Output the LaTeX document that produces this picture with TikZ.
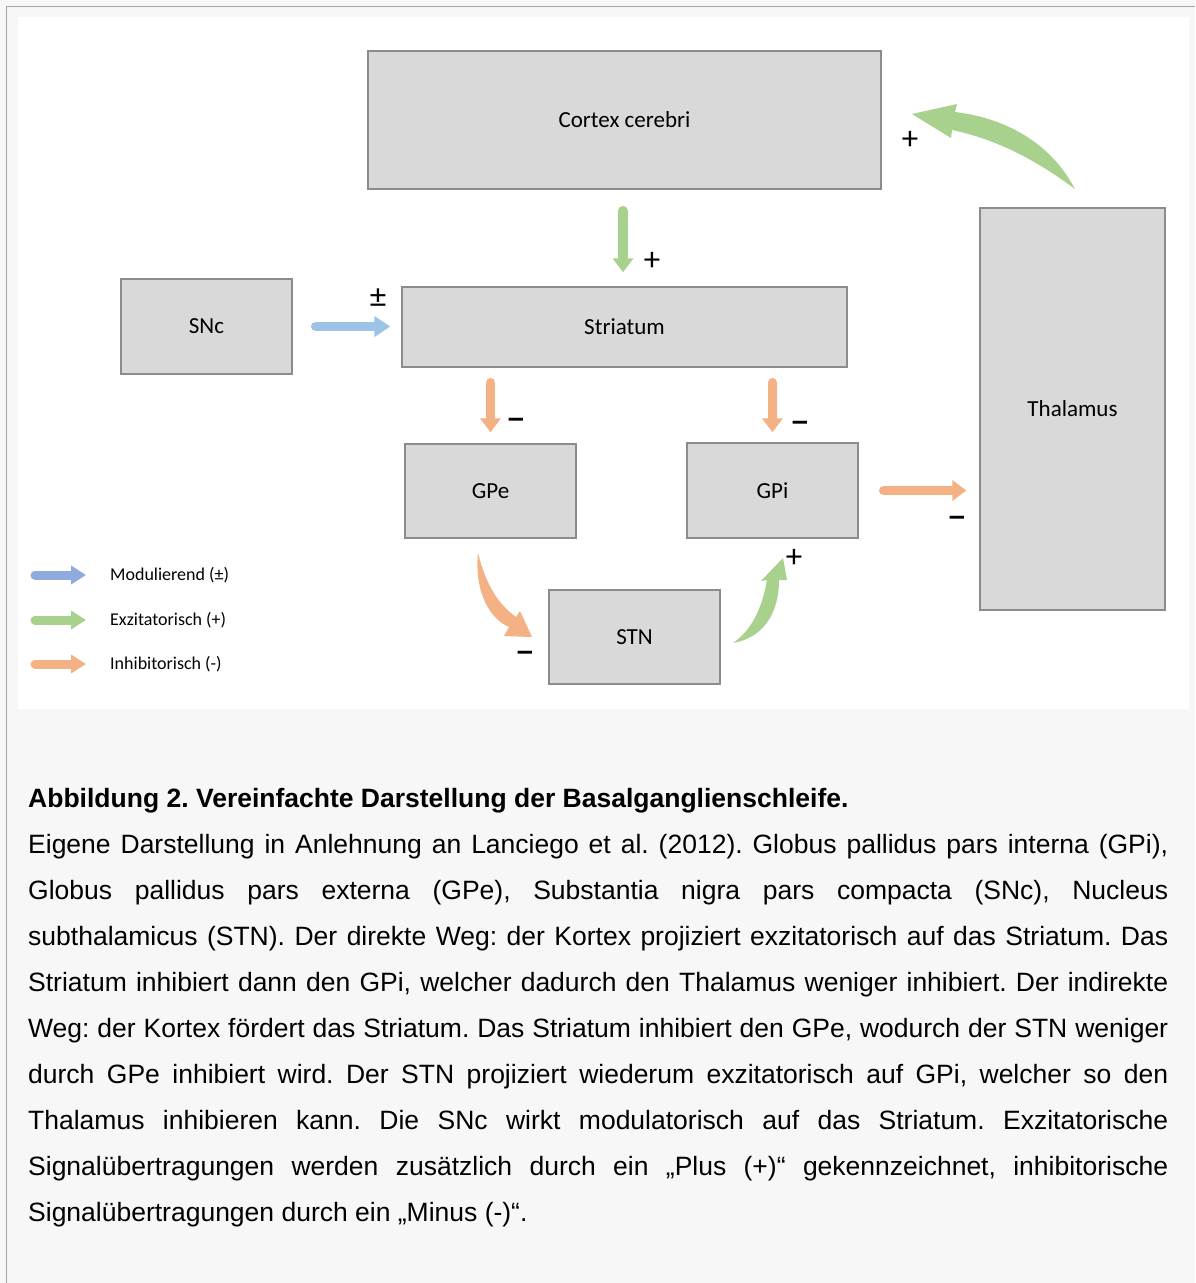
\documentclass[tikz,border=0pt]{standalone}
\usepackage{fontspec}
\setmainfont{Liberation Sans}
\newfontfamily\carl{Carlito}
\usetikzlibrary{arrows.meta}
\frenchspacing
\definecolor{bgc}{HTML}{F7F7F7}
\definecolor{frameline}{HTML}{A6A6A6}
\definecolor{boxfill}{HTML}{D9D9D9}
\definecolor{boxline}{HTML}{8C8C8C}
\definecolor{agreen}{HTML}{A9D18E}
\definecolor{aorange}{HTML}{F4B183}
\definecolor{ablue}{HTML}{9DC3E6}
\definecolor{lblue}{HTML}{8FAADC}
\begin{document}
\begin{tikzpicture}[x=1pt,y=-1pt,
  box/.style={draw=boxline, fill=boxfill, line width=1.4pt, font=\carl\fontsize{23}{26}\selectfont, inner sep=0pt},
  sarrow/.style={line width=9.5pt, line cap=round, -{Triangle[length=14pt,width=20pt]}},
  sign/.style={font=\carl\fontsize{33}{34}\selectfont, inner sep=0pt},
  minus/.style={font=\bfseries\fontsize{29}{30}\selectfont, inner sep=0pt},
  leg/.style={font=\carl\fontsize{18}{22}\selectfont, anchor=west, inner sep=0pt},
  capline/.style={font=\fontsize{26.5}{30}\selectfont, anchor=base west, inner sep=0pt}]
\useasboundingbox (0,0) rectangle (1195,1283);
% background and frame
\fill[bgc] (0,0) rectangle (1195,1283);
\draw[frameline, line width=1.5pt] (6.5,1283) -- (6.5,6.5) -- (1195,6.5);
\fill[white] (18,17) rectangle (1189,709);

% boxes
\node[box, minimum width=513pt, minimum height=138pt] (cortex) at (624.5,120) {Cortex cerebri};
\node[box, minimum width=445pt, minimum height=80pt] (striatum) at (624.5,327) {Striatum};
\node[box, minimum width=171pt, minimum height=95pt] (snc) at (206.5,326.5) {SNc};
\node[box, minimum width=171pt, minimum height=94pt] (gpe) at (490.5,491) {GPe};
\node[box, minimum width=171pt, minimum height=95pt] (gpi) at (772.5,490.5) {GPi};
\node[box, minimum width=171pt, minimum height=94pt] (stn) at (634.5,637) {STN};
\node[box, minimum width=185pt, minimum height=402pt] (thalamus) at (1072.5,409) {Thalamus};

% straight connectors
\draw[sarrow, agreen] ([xshift=-1.5pt,yshift=-21pt]cortex.south) -- ([xshift=-1.5pt,yshift=14pt]striatum.north);
\draw[sarrow, ablue, -{Triangle[length=16pt,width=20pt]}] ([xshift=23pt]snc.east) -- ([xshift=-11pt]snc.east -| striatum.west);
\draw[sarrow, aorange] ([yshift=-15pt]gpe.north |- striatum.south) -- ([yshift=11pt]gpe.north);
\draw[sarrow, aorange] ([yshift=-15pt]gpi.north |- striatum.south) -- ([yshift=10pt]gpi.north);
\draw[sarrow, aorange] ([xshift=25pt]gpi.east) -- ([xshift=-13pt]gpi.east -| thalamus.west);

% curved connectors (tapered)
\coordinate (thtail) at (1075,189);
\coordinate (thtip) at (912,114);
\fill[agreen] (thtip) -- (957,104) -- (955,112) .. controls (1005,118) and (1050,142) .. (thtail)
  .. controls (1040,163) and (1000,140) .. (952,130) -- (951,138) -- cycle;
\coordinate (getail) at (478,553);
\coordinate (getip) at (532,637);
\fill[aorange] (getail) .. controls (486,585) and (498,604) .. (516,617) -- (520,611) -- (getip)
  -- (504,636) -- (509,627) .. controls (492,620) and (474,595) .. (getail) -- cycle;
\coordinate (sttail) at (733,643);
\coordinate (sttip) at (783,558);
\fill[agreen] (sttail) .. controls (752,630) and (762,608) .. (767,580) -- (761,581) -- (sttip)
  -- (787,580) -- (779,580) .. controls (779,615) and (762,638) .. (sttail) -- cycle;

% signs
\node[sign] (s1) at (652,261) {+};
\node[sign] (s2) at (378,298) {±};
\node[minus] (s3) at (516,423) {–};
\node[minus] (s4) at (800,426) {–};
\node[minus] (s5) at (957,521) {–};
\node[minus] (s6) at (525,656) {–};
\node[sign] (s7) at (794,558) {+};
\node[sign] (s8) at (910,140) {+};

% legend
\coordinate (l1a) at (35,575); \coordinate (l1b) at (86,575);
\coordinate (l2a) at (35,620); \coordinate (l2b) at (86,620);
\coordinate (l3a) at (35,664); \coordinate (l3b) at (86,664);
\draw[sarrow, lblue, line width=9pt, -{Triangle[length=15pt,width=18pt]}] (l1a) -- (l1b);
\draw[sarrow, agreen, line width=9pt, -{Triangle[length=15pt,width=18pt]}] (l2a) -- (l2b);
\draw[sarrow, aorange, line width=9pt, -{Triangle[length=15pt,width=18pt]}] (l3a) -- (l3b);
\node[leg] (leg1) at (110,575) {Modulierend (±)};
\node[leg] (leg2) at (110,620) {Exzitatorisch (+)};
\node[leg] (leg3) at (110,664) {Inhibitorisch (-)};

% caption
\node[capline, font=\bfseries\fontsize{26.5}{30}\selectfont] (title) at (28,807) {Abbildung 2. Vereinfachte Darstellung der Basalganglienschleife.};
\node[capline] (c1) at (28,853) {\makebox[1140pt][s]{Eigene Darstellung in Anlehnung an Lanciego et al. (2012). Globus pallidus pars interna (GPi),}};
\node[capline] (c2) at (28,899) {\makebox[1140pt][s]{Globus pallidus pars externa (GPe), Substantia nigra pars compacta (SNc), Nucleus}};
\node[capline] (c3) at (28,945) {\makebox[1140pt][s]{subthalamicus (STN). Der direkte Weg: der Kortex projiziert exzitatorisch auf das Striatum. Das}};
\node[capline] (c4) at (28,991) {\makebox[1140pt][s]{Striatum inhibiert dann den GPi, welcher dadurch den Thalamus weniger inhibiert. Der indirekte}};
\node[capline] (c5) at (28,1037) {\makebox[1140pt][s]{Weg: der Kortex fördert das Striatum. Das Striatum inhibiert den GPe, wodurch der STN weniger}};
\node[capline] (c6) at (28,1083) {\makebox[1140pt][s]{durch GPe inhibiert wird. Der STN projiziert wiederum exzitatorisch auf GPi, welcher so den}};
\node[capline] (c7) at (28,1129) {\makebox[1140pt][s]{Thalamus inhibieren kann. Die SNc wirkt modulatorisch auf das Striatum. Exzitatorische}};
\node[capline] (c8) at (28,1175) {\makebox[1140pt][s]{Signalübertragungen werden zusätzlich durch ein „Plus (+)“ gekennzeichnet, inhibitorische}};
\node[capline] (c9) at (28,1221) {Signalübertragungen durch ein „Minus (-)“.};
\end{tikzpicture}
\end{document}
